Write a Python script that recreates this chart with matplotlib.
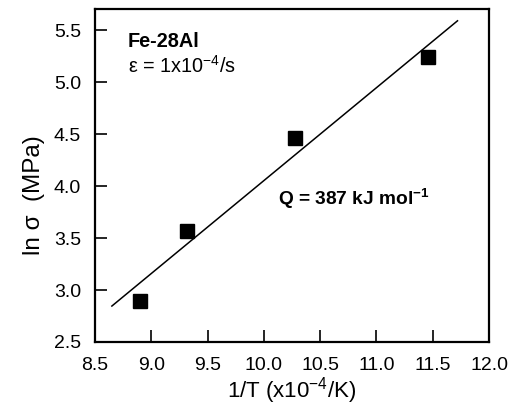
import numpy as np
import matplotlib
matplotlib.use("Agg")
import matplotlib.pyplot as plt

plt.rcParams['font.family'] = ['Liberation Sans', 'DejaVu Sans']
plt.rcParams['mathtext.fontset'] = 'custom'
plt.rcParams['mathtext.rm'] = 'Liberation Sans'
plt.rcParams['mathtext.it'] = 'Liberation Sans:italic'
plt.rcParams['mathtext.bf'] = 'Liberation Sans:bold'
plt.rcParams['mathtext.default'] = 'regular'

inv_T = [8.90, 9.32, 10.28, 11.455]
ln_sigma = [2.89, 3.57, 4.465, 5.245]
fit_range = [8.65, 11.72]
x_ticks = [8.5, 9.0, 9.5, 10.0, 10.5, 11.0, 11.5, 12.0]
y_ticks = [2.5, 3.0, 3.5, 4.0, 4.5, 5.0, 5.5]

fig = plt.figure(figsize=(5.14, 4.08), dpi=100)
ax = fig.add_axes([0.1848, 0.1618, 0.7666, 0.8152])

slope, intercept = np.polyfit(inv_T, ln_sigma, 1)
xf = np.array(fit_range)
ax.plot(xf, slope * xf + intercept, color='black', lw=1.1)
ax.plot(inv_T, ln_sigma, linestyle='none', marker='s', ms=10, color='black')

ax.set_xlim(8.5, 12.0)
ax.set_ylim(2.5, 5.7)
ax.set_xticks(x_ticks)
ax.set_yticks(y_ticks)
ax.set_xticklabels([f"{v:.1f}" for v in x_ticks])
ax.set_yticklabels([f"{v:.1f}" for v in y_ticks])
ax.tick_params(direction='in', length=8.5, width=1.2, labelsize=14)
ax.tick_params(axis='x', pad=11)
ax.tick_params(axis='y', pad=10)
for s in ax.spines.values():
    s.set_linewidth(1.6)

ax.set_xlabel(r'1/T (x10$^{-4}$/K)', fontsize=16)
ax.set_ylabel('ln σ  (MPa)', fontsize=17.5)
ax.xaxis.set_label_coords(0.5, -0.10)
ax.yaxis.set_label_coords(-0.127, 0.441)

ax.text(8.79, 5.34, 'Fe-28Al', fontsize=14.3, fontweight='bold')
ax.text(8.79, 5.09, r'ε = 1x10$^{-4}$/s', fontsize=14.3)
ax.text(10.125, 3.82, r'Q = 387 kJ mol$^{\mathbf{-1}}$', fontsize=13.8, fontweight='bold')

fig.savefig('out.png', dpi=100)
